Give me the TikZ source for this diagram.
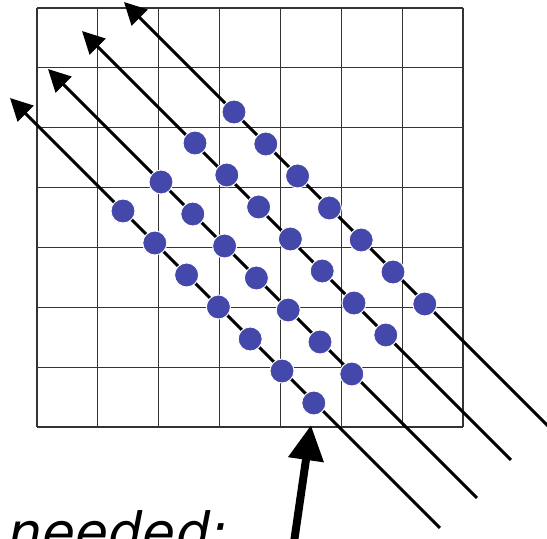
\documentclass[tikz,border=0pt]{standalone}
\usepackage{fontspec}
\usepackage{xcolor}
\usepackage{tikz}
\usetikzlibrary{arrows.meta}
\newfontfamily\notefont{DejaVu Sans}
\definecolor{dotblue}{RGB}{67,72,170}

\begin{document}
\begin{tikzpicture}[x=0.03cm,y=-0.03cm,
    gridline/.style={black!80,line width=1pt},
    sweep/.style={line width=2.5pt,-{Triangle[length=19pt,width=19pt]}},
    dot/.style={circle,fill=dotblue,draw=white,line width=0.8pt,minimum size=20.5pt,inner sep=0pt},
    pointer/.style={line width=6.8pt,-{Triangle[length=30pt,width=29pt]}}]
  \useasboundingbox (0,0) rectangle (547,539);
  \clip (0,0) rectangle (547,539);
  % 7x7 cells
  \foreach \i in {0,...,7} {
    \draw[gridline] ({37+60.86*\i},8) -- ({37+60.86*\i},427);
    \draw[gridline] (37,{8+59.86*\i}) -- (463,{8+59.86*\i});
  }
  % sweep lines, tail at lower right, tip at upper left
  \coordinate (tail1) at (440,528); \coordinate (tip1) at (10,98);
  \coordinate (tail2) at (477,498); \coordinate (tip2) at (48,69);
  \coordinate (tail3) at (511,460); \coordinate (tip3) at (82,31);
  \coordinate (tail4) at (560,438); \coordinate (tip4) at (124,2);
  \foreach \k in {1,...,4} \draw[sweep] (tail\k) -- (tip\k);
  % seven points on every line
  \foreach \k/\bx/\by in {1/123/211, 2/161/182, 3/195/143, 4/234/112}
    \foreach \j in {0,...,6}
      \node[dot] (d\k-\j) at ({\bx+31.8*\j},{\by+32*\j}) {};
  \node[anchor=base west,inner sep=0pt,font=\notefont\itshape\fontsize{46}{50}\selectfont]
    (needed) at (8,552) {needed:};
  \coordinate (ptrtail) at (292,556); \coordinate (ptrtip) at (311,425);
  \draw[pointer] (ptrtail) -- (ptrtip);
\end{tikzpicture}
\end{document}
